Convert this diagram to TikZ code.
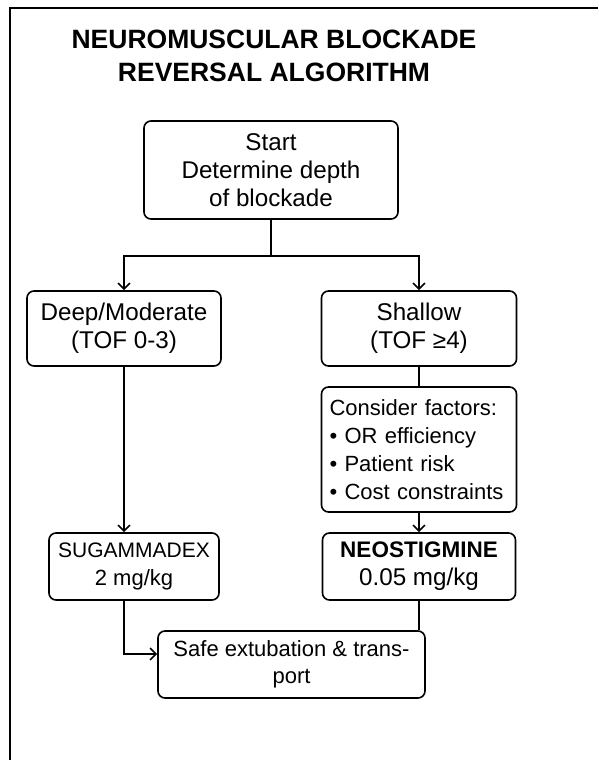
\documentclass[tikz,border=0pt]{standalone}
\usepackage{fontspec}
\setmainfont{Liberation Sans}
\usetikzlibrary{arrows.meta}
\tikzstyle{heading} = [align=center, font=\fontsize{26.5}{33}\selectfont\bfseries]
\tikzstyle{block} = [rectangle, rounded corners=7pt, line width=1.6pt, draw=black, align=center, inner sep=0pt, font=\fontsize{24.2}{28}\selectfont]
\tikzstyle{line} = [line width=1.6pt]
\tikzstyle{arrow} = [line width=1.6pt,-{Straight Barb[length=6pt,width=12pt]}]

\begin{document}
\begin{tikzpicture}[x=1pt,y=-1pt]
\useasboundingbox (0,0) rectangle (598,760);
\fill [white] (0,0) rectangle (598,760);
\draw [line] (598,8) -- (10,8) -- (10,760);

\node (title) [heading] at (274,56) {NEUROMUSCULAR BLOCKADE\\REVERSAL ALGORITHM};
\node (start) [block, minimum width=254pt, minimum height=98pt] at (271,170) {Start\\Determine depth\\of blockade};

\node (deep) [block, minimum width=194pt, minimum height=75pt] at (124,328.5) {Deep/Moderate\\(TOF 0-3)};
\node (shallow) [block, minimum width=195pt, minimum height=75pt] at (419,328.5) {Shallow\\(TOF ≥4)};
\node (factors) [block, minimum width=195pt, minimum height=125pt, text width=179pt, inner xsep=8pt, align=left, font=\fontsize{22}{28}\selectfont] at (419,449.5) {Consider factors:\\• OR efficiency\\• Patient risk\\• Cost constraints};

\node (sugammadex) [block, minimum width=170pt, minimum height=67pt, font=\fontsize{22}{28}\selectfont] at (134,566.5) {{\fontsize{21}{28}\selectfont SUGAMMADEX}\\2 mg/kg};
\node (neostigmine) [block, minimum width=193pt, minimum height=67pt] at (419,566.5) {{\fontsize{22.5}{28}\selectfont\bfseries NEOSTIGMINE}\\0.05 mg/kg};
\node (safe) [block, minimum width=267pt, minimum height=67pt, font=\fontsize{22}{27}\selectfont] at (291.5,664.5) {Safe extubation \& trans-\\port};

\coordinate (split) at (271,256);
\coordinate (bend) at (124,654);

\draw [line] (start) -- (split);
\draw [arrow] (split) -| (deep);
\draw [arrow] (split) -| (shallow);
\draw [line] (shallow) -- (factors);
\draw [arrow] (factors) -- (neostigmine);
\draw [arrow] (deep) -- (deep |- sugammadex.north);
\draw [arrow] (sugammadex.south -| deep) |- (safe.west |- bend);
\draw [line] (neostigmine) -- (neostigmine |- safe.north);

\end{tikzpicture}
\end{document}
